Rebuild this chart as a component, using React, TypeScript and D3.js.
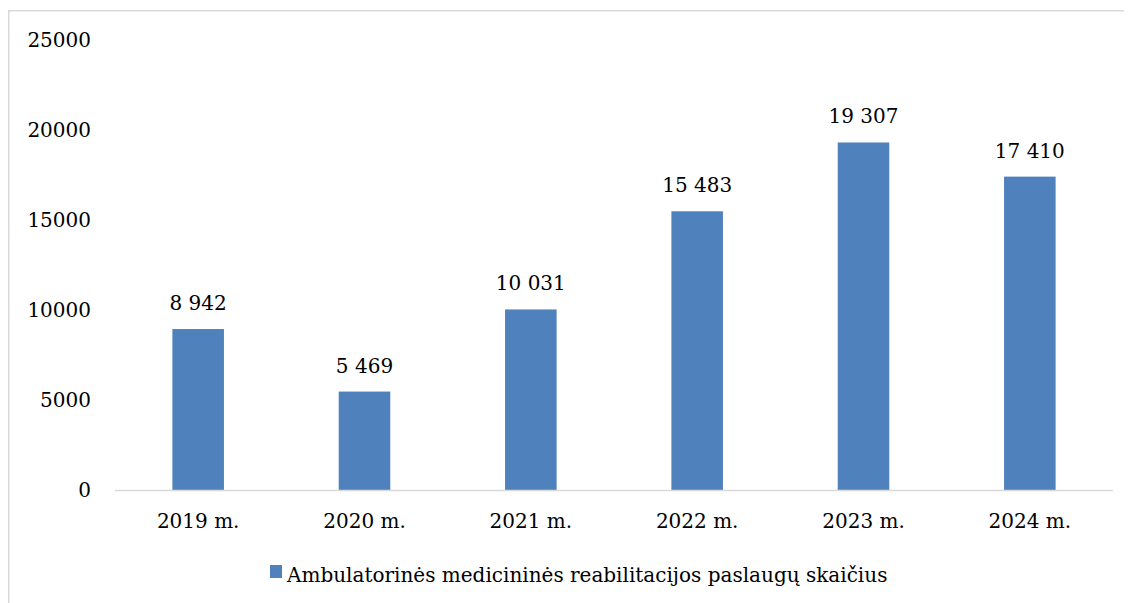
import React from "react";
import * as d3 from "d3";

const categories = ["2019 m.", "2020 m.", "2021 m.", "2022 m.", "2023 m.", "2024 m."];
const values = [8942, 5469, 10031, 15483, 19307, 17410];
const yTicks = [0, 5000, 10000, 15000, 20000, 25000];
const seriesName = "Ambulatorinės medicininės reabilitacijos paslaugų skaičius";

const W = 1124;
const H = 595;
const OX = 8;
const OY = 8;

export default function App() {
  const x = d3
    .scaleBand<string>()
    .domain(categories)
    .range([115 - OX, 1113 - OX])
    .paddingInner(0.69)
    .paddingOuter(0.345);
  const y = d3.scaleLinear().domain([0, 25000]).range([490 - OY, 40 - OY]);
  const fmt = (v: number) => d3.format(",")(v).replace(/,/g, " ");
  const font = "'DejaVu Serif', serif";
  const color = "#4F81BD";
  return (
    <svg width={W} height={H} style={{ display: "block", overflow: "hidden" }} fontFamily={font}>
      <rect x={0.75} y={2.75} width={1300} height={800} fill="#fff" stroke="#D9D9D9" strokeWidth={1.5} />
      {yTicks.map((t) => (
        <text key={t} x={91 - OX} y={y(t)} dy="0.35em" textAnchor="end" fontSize={20} fill="#000">
          {t}
        </text>
      ))}
      {categories.map((c, i) => (
        <g key={c}>
          <rect x={x(c)} y={y(values[i])} width={x.bandwidth()} height={y(0) - y(values[i])} fill={color} />
          <text x={(x(c) as number) + x.bandwidth() / 2} y={y(values[i]) - 19} textAnchor="middle" fontSize={20} fill="#000">
            {fmt(values[i])}
          </text>
          <text x={(x(c) as number) + x.bandwidth() / 2} y={521 - OY} dy="0.35em" textAnchor="middle" fontSize={20} fill="#000">
            {c}
          </text>
        </g>
      ))}
      <line x1={115 - OX} x2={1113 - OX} y1={y(0) + 0.5} y2={y(0) + 0.5} stroke="#D9D9D9" strokeWidth={1.5} />
      <rect x={270 - OX} y={565 - OY} width={12} height={13} fill={color} />
      <text x={287 - OX} y={582 - OY} fontSize={20} fill="#000">
        {seriesName}
      </text>
    </svg>
  );
}
